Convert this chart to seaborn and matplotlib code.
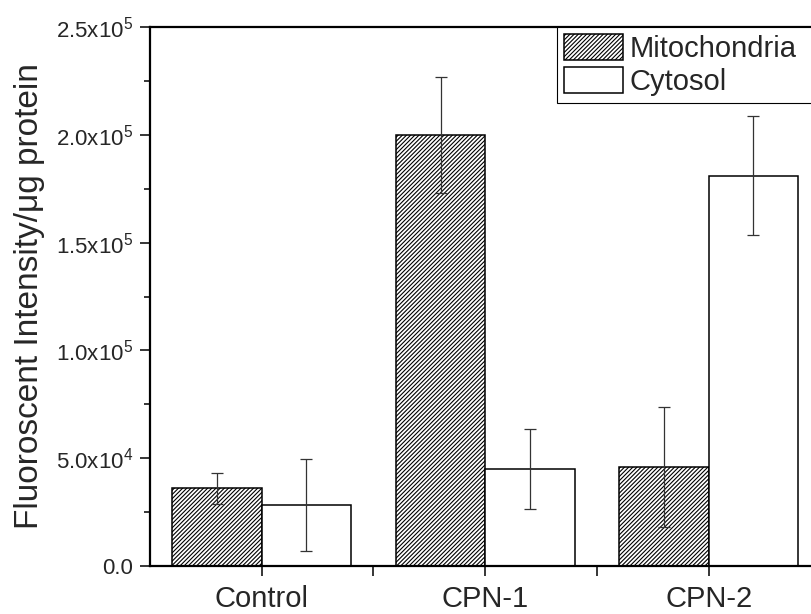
import numpy as np
import pandas as pd
import matplotlib
matplotlib.use("Agg")
import matplotlib.pyplot as plt
from matplotlib.ticker import FixedLocator, FuncFormatter, MultipleLocator
import seaborn as sns

# values
groups = ["Control", "CPN-1", "CPN-2"]
fractions = ["Mitochondria", "Cytosol"]
mito_mean = [36000, 200000, 46000]
mito_err = [7200, 27000, 27800]
cyto_mean = [28200, 45000, 181000]
cyto_err = [21400, 18700, 27700]

df = pd.DataFrame({
    "group": groups * 2,
    "fraction": [fractions[0]] * 3 + [fractions[1]] * 3,
    "value": mito_mean + cyto_mean,
    "err": mito_err + cyto_err,
})

sns.set_theme(style="ticks")
plt.rcParams["font.family"] = ["Liberation Sans", "DejaVu Sans"]
plt.rcParams["hatch.linewidth"] = 0.8
plt.rcParams["mathtext.fontset"] = "custom"
plt.rcParams["mathtext.rm"] = "Liberation Sans"

fig = plt.figure(figsize=(8.12, 6.14), dpi=100)
ax = fig.add_axes([150 / 812, 48 / 614, 670.5 / 812, 539 / 614])

sns.barplot(data=df, x="group", y="value", hue="fraction", order=groups,
            hue_order=fractions, palette=["white", "white"], errorbar=None,
            width=0.8, edgecolor="black", linewidth=1.1, saturation=1, ax=ax)

hatch = "////////"
for bar in ax.containers[0]:
    bar.set_hatch(hatch)

# error bars on the bar centres
for cont, frac in zip(ax.containers, fractions):
    sub = df[df["fraction"] == frac]
    xs = [b.get_x() + b.get_width() / 2 for b in cont]
    ax.errorbar(xs, sub["value"], yerr=sub["err"], fmt="none", ecolor="#333333",
                elinewidth=0.9, capsize=4.5, capthick=0.9, zorder=5)

ax.set_xlim(-0.5, 2.5)
ax.set_ylim(0, 250000)
ax.set_xlabel("")
ax.set_ylabel("Fluoroscent Intensity/\u03bcg protein", fontsize=24)
ax.yaxis.set_label_coords(-0.157, 0.5)

def sci(v, pos):
    if v <= 0:
        return "0.0"
    exp = int(np.floor(np.log10(v)))
    return r"$\mathregular{%.1fx10^{%d}}$" % (v / 10 ** exp, exp)

ax.yaxis.set_major_locator(MultipleLocator(50000))
ax.yaxis.set_minor_locator(MultipleLocator(25000))
ax.yaxis.set_major_formatter(FuncFormatter(sci))
ax.xaxis.set_minor_locator(FixedLocator([0.5, 1.5]))

ax.tick_params(axis="y", which="major", labelsize=16, length=7, width=1.3, direction="out", pad=5)
ax.tick_params(axis="y", which="minor", length=4, width=1.3, direction="out")
ax.tick_params(axis="x", which="both", labelsize=21, length=7, width=1.3, direction="out", pad=7)

for s in ax.spines.values():
    s.set_linewidth(1.6)
    s.set_color("black")

# legend box runs off the right edge, as in the cropped original
leg = ax.legend(loc="upper left", bbox_to_anchor=(557 / 812, 1 - 27 / 614, 280 / 812, 0),
                bbox_transform=fig.transFigure, mode="expand", fontsize=21, frameon=True,
                fancybox=False, edgecolor="black", framealpha=1, handlelength=2.0,
                handleheight=1.0, handletextpad=0.25, labelspacing=0.12, borderpad=0.25,
                borderaxespad=0)
leg.get_frame().set_linewidth(0.8)
leg.legend_handles[0].set_hatch(hatch)

fig.savefig("out.png", dpi=100)
